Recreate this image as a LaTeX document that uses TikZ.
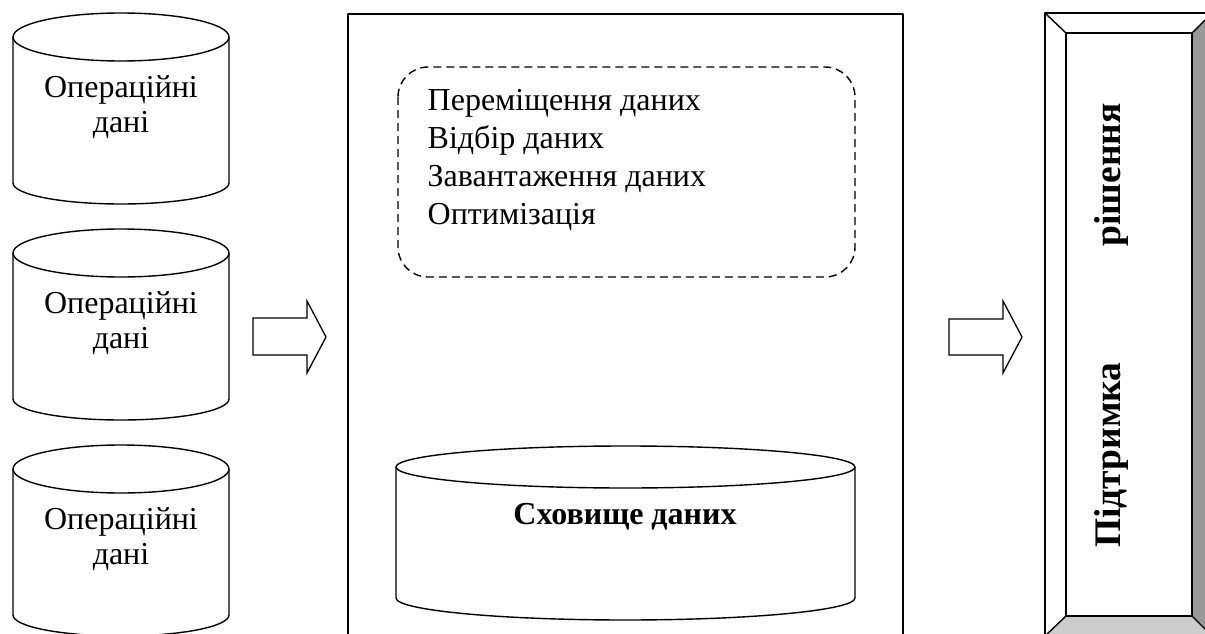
\documentclass[tikz,border=0pt]{standalone}
\usepackage{fontspec}
\setmainfont{Liberation Serif}
\begin{document}
\begin{tikzpicture}[x=1pt,y=-1pt,line width=1.4pt,line join=round,
  optxt/.style={inner sep=0pt,align=center,font=\fontsize{32}{35}\selectfont},
  steptxt/.style={inner sep=0pt,align=left,anchor=north west,font=\fontsize{32}{38}\selectfont},
  boldtxt/.style={inner sep=0pt,font=\fontsize{32}{36}\selectfont\bfseries},
  sidetxt/.style={inner sep=0pt,anchor=base,rotate=90,font=\fontsize{37.5}{40}\selectfont\bfseries},
  blockarrow/.style={draw=black,fill=white,line width=1.3pt,line join=miter}]
\useasboundingbox (0,0) rectangle (1205,634);
\begin{scope}
\clip (0,0) rectangle (1205,634);

% three source databases
\foreach \i/\t in {1/37,2/253,3/469}{
  \pgfmathsetmacro{\b}{\t+146}
  \draw[fill=white] (13,\t) -- (13,\b) arc[start angle=180,end angle=360,x radius=108pt,y radius=21pt] -- (229,\t);
  \draw (121,\t) ellipse[x radius=108pt,y radius=24pt];
  \node[optxt] (src\i) at (121,\t+70) {Операційні\\дані};
}

% arrow into the warehouse
\draw[blockarrow] (253,318) -- (307,318) -- (307,301) -- (326,337) -- (307,373) -- (307,355) -- (253,355) -- cycle;

% warehouse frame (open at the bottom)
\draw (348,700) -- (348,14) -- (903,14) -- (903,700);

% processing steps
\draw[dash pattern=on 8pt off 5pt,rounded corners=30pt] (398,67) rectangle (855,277);
\node[steptxt] (steps) at (427,89) {Переміщення даних\\Відбір даних\\Завантаження даних\\Оптимізація};

% data warehouse store
\draw (396,467) -- (396,598) arc[start angle=180,end angle=360,x radius=229.5pt,y radius=22pt] -- (855,467);
\draw (625.5,467) ellipse[x radius=229.5pt,y radius=21pt];
\node[boldtxt,anchor=base] (store) at (625,524) {Сховище даних};

% arrow out to decision support
\draw[blockarrow] (949,319) -- (1003,319) -- (1003,301) -- (1022,337) -- (1003,373) -- (1003,355) -- (949,355) -- cycle;

% bevelled panel
\fill[white] (1045,13) rectangle (1212,636);
\fill[black!40] (1192,33) -- (1212,13) -- (1212,636) -- (1192,616) -- cycle;
\fill[black!20] (1066,616) -- (1192,616) -- (1212,636) -- (1045,636) -- cycle;
\draw (1045,13) rectangle (1212,636);
\draw (1066,33) rectangle (1192,616);
\draw (1045,13) -- (1066,33) (1212,13) -- (1192,33) (1045,636) -- (1066,616) (1212,636) -- (1192,616);
\node[sidetxt] (sup1) at (1120,455) {Підтримка};
\node[sidetxt] (sup2) at (1120,175) {рішення};
\end{scope}
\end{tikzpicture}
\end{document}
